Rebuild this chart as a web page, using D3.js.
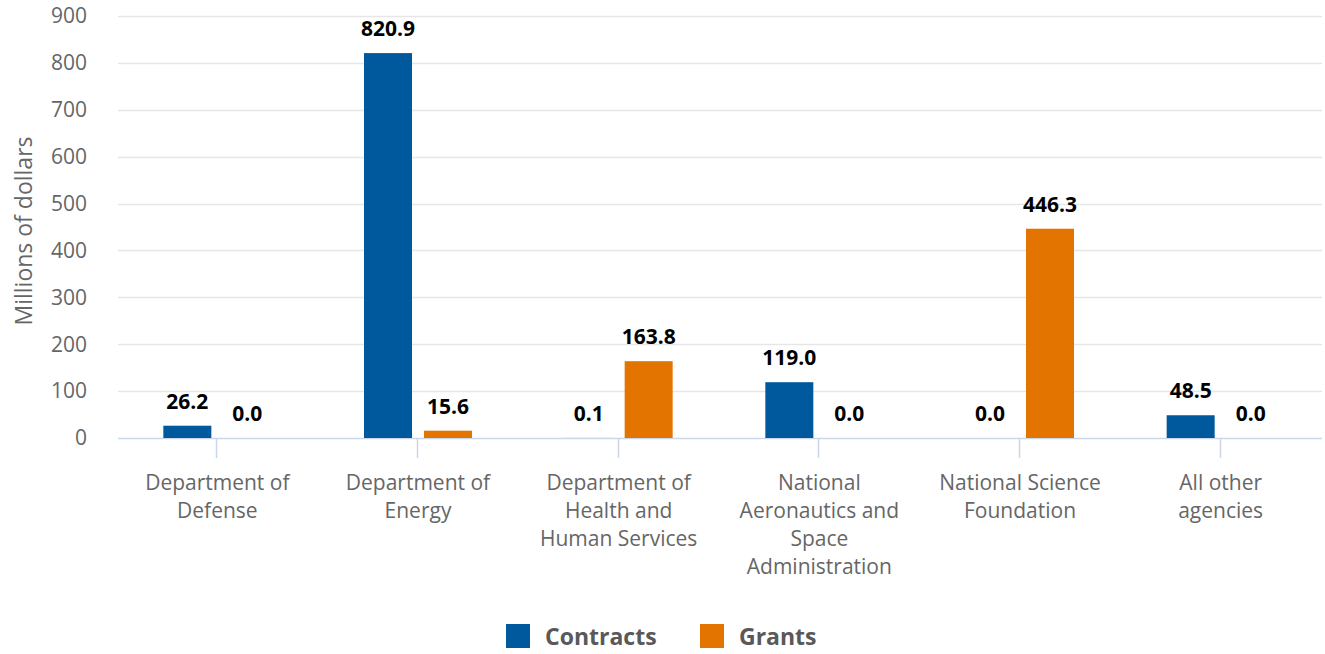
<!DOCTYPE html>
<html>
<head>
<meta charset="utf-8">
<script src="https://cdn.jsdelivr.net/npm/d3@7"></script>
<style>
  body { margin: 0; background: #fff; }
  svg { font-family: "Open Sans", sans-serif; }
</style>
</head>
<body>
<div id="chart"></div>
<script>
const categories = [
    ["Department of", "Defense"],
    ["Department of", "Energy"],
    ["Department of", "Health and", "Human Services"],
    ["National", "Aeronautics and", "Space", "Administration"],
    ["National Science", "Foundation"],
    ["All other", "agencies"]
];
const contracts = [26.2, 820.9, 0.1, 119.0, 0.0, 48.5];
const grants = [0.0, 15.6, 163.8, 0.0, 446.3, 0.0];
const yTicks = [0, 100, 200, 300, 400, 500, 600, 700, 800, 900];
const seriesNames = ["Contracts", "Grants"];
const colors = ["#00599c", "#e37400"];

const width = 1325, height = 654;
const svg = d3.select("#chart").append("svg")
    .attr("width", width)
    .attr("height", height);

const plotLeft = 118, plotRight = 1322, plotTop = 16, plotBottom = 438;

const x = d3.scaleBand()
    .domain(d3.range(categories.length))
    .range([plotLeft, plotRight]);

const y = d3.scaleLinear()
    .domain([0, 900])
    .range([plotBottom, plotTop]);

// gridlines
svg.append("g")
    .selectAll("line")
    .data(yTicks.slice(1))
    .join("line")
    .attr("x1", plotLeft)
    .attr("x2", plotRight)
    .attr("y1", d => Math.round(y(d)) + 0.5)
    .attr("y2", d => Math.round(y(d)) + 0.5)
    .attr("stroke", "#e6e6e6")
    .attr("stroke-width", 1.5);

// y tick labels
svg.append("g")
    .attr("text-anchor", "end")
    .selectAll("text")
    .data(yTicks)
    .join("text")
    .attr("x", 87)
    .attr("y", d => y(d))
    .attr("dy", "0.35em")
    .attr("font-size", 21)
    .attr("fill", "#666")
    .text(d => d);

svg.append("text")
    .attr("transform", `translate(24, ${(plotTop + plotBottom) / 2 + 4}) rotate(-90)`)
    .attr("text-anchor", "middle")
    .attr("dy", "0.35em")
    .attr("font-size", 23)
    .attr("fill", "#666")
    .text("Millions of dollars");

// x axis
svg.append("line")
    .attr("x1", plotLeft)
    .attr("x2", plotRight)
    .attr("y1", plotBottom + 0.5)
    .attr("y2", plotBottom + 0.5)
    .attr("stroke", "#ccd6eb")
    .attr("stroke-width", 1.5);

const center = i => x(i) + x.bandwidth() / 2 - 1;

svg.append("g")
    .selectAll("line")
    .data(d3.range(categories.length))
    .join("line")
    .attr("x1", d => Math.round(center(d)) - 0.5)
    .attr("x2", d => Math.round(center(d)) - 0.5)
    .attr("y1", plotBottom)
    .attr("y2", plotBottom + 20)
    .attr("stroke", "#ccd6eb")
    .attr("stroke-width", 1.5);

const catLabels = svg.append("g")
    .attr("text-anchor", "middle")
    .selectAll("text")
    .data(categories)
    .join("text")
    .attr("x", (d, i) => center(i))
    .attr("y", 490)
    .attr("font-size", 21)
    .attr("fill", "#666");

catLabels.selectAll("tspan")
    .data(d => d)
    .join("tspan")
    .attr("x", function() { return this.parentNode.getAttribute("x"); })
    .attr("dy", (d, i) => i === 0 ? 0 : 28)
    .text(d => d);

// bars
const barW = 48, gap = 6;
const series = [contracts, grants];

series.forEach((vals, s) => {
    const bx = i => s === 0 ? center(i) - gap - barW : center(i) + gap;
    svg.append("g")
        .selectAll("rect")
        .data(vals)
        .join("rect")
        .attr("x", (d, i) => bx(i))
        .attr("y", d => y(d))
        .attr("width", barW)
        .attr("height", d => plotBottom - y(d))
        .attr("fill", colors[s]);

    svg.append("g")
        .attr("text-anchor", "middle")
        .selectAll("text")
        .data(vals)
        .join("text")
        .attr("x", (d, i) => bx(i) + barW / 2)
        .attr("y", d => y(d) - 17)
        .attr("font-size", 21)
        .attr("font-weight", "bold")
        .attr("fill", "#000")
        .text(d => d.toFixed(1));
});

// legend
const legend = svg.append("g");
const legendX = [506, 700];
seriesNames.forEach((name, i) => {
    legend.append("rect")
        .attr("x", legendX[i])
        .attr("y", 624)
        .attr("width", 24)
        .attr("height", 24)
        .attr("fill", colors[i]);
    legend.append("text")
        .attr("x", legendX[i] + 39)
        .attr("y", 645)
        .attr("font-size", 23)
        .attr("font-weight", "bold")
        .attr("fill", "#595959")
        .text(name);
});
</script>
</body>
</html>
